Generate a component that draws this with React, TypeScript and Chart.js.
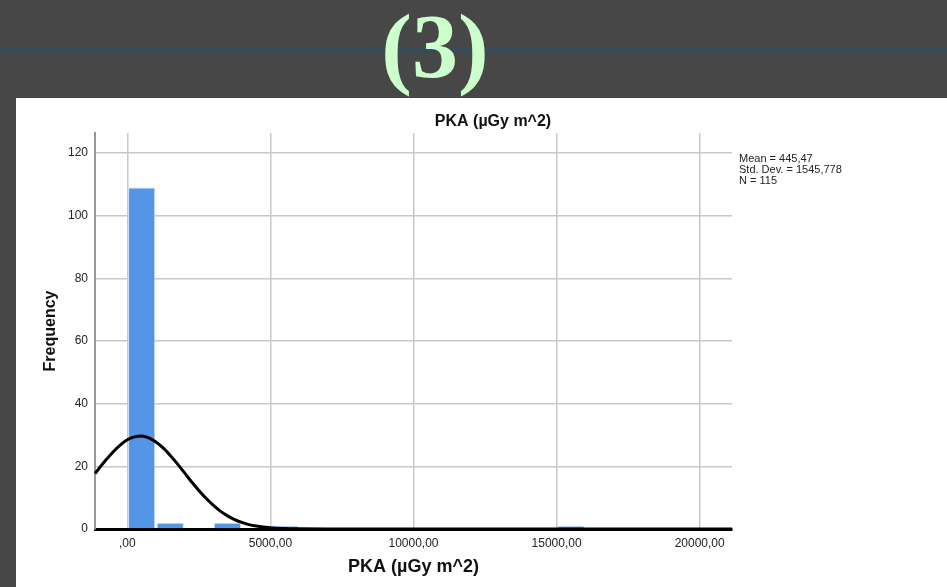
import React, { useEffect, useRef } from 'react';
import { Chart, registerables } from 'chart.js';

Chart.register(...registerables);

// Histogram bins (bin centres, width 1000) and frequencies
const binCenters = [500, 1500, 3500, 5500, 15500];
const binCounts = [109, 2, 2, 1, 1];

// Fitted normal curve
const curveX = [-1130, -1000, -750, -500, -250, 0, 250, 500, 750, 1000, 1250, 1500, 1750, 2000, 2250, 2500, 2750, 3000, 3250, 3500, 3750, 4000, 4250, 4500, 5000, 5500, 6000, 7000, 10000, 15000, 21130];
const curveY = [17.7, 19.2, 22.0, 24.6, 26.8, 28.5, 29.4, 29.7, 29.1, 27.8, 25.9, 23.5, 20.8, 17.9, 15.0, 12.3, 9.8, 7.6, 5.7, 4.2, 3.0, 2.1, 1.4, 0.95, 0.39, 0.14, 0.05, 0, 0, 0, 0];

const xTicks = [0, 5000, 10000, 15000, 20000];
const yTicks = [0, 20, 40, 60, 80, 100, 120];
const chartTitle = 'PKA (µGy m^2)';
const xTitle = 'PKA (µGy m^2)';
const yTitle = 'Frequency';
const statsLines = ['Mean = 445,47', 'Std. Dev. = 1545,778', 'N = 115'];
const heading = '(3)';

const FONT = 'Arial, "Liberation Sans", sans-serif';

const PANEL_LEFT = 16;
const PANEL_TOP = 98;

const formatTick = (v: number) => (v === 0 ? ',00' : `${v},00`);

const textPlugin = {
  id: 'spssText',
  afterDraw(chart: any) {
    const ctx = chart.ctx;
    ctx.save();
    ctx.fillStyle = '#111';
    ctx.font = `bold 16px ${FONT}`;
    ctx.textAlign = 'center';
    ctx.textBaseline = 'middle';
    ctx.fillText(chartTitle, 493 - PANEL_LEFT, 122 - PANEL_TOP);
    ctx.font = `11px ${FONT}`;
    ctx.textAlign = 'left';
    ctx.fillStyle = '#222';
    statsLines.forEach((l, i) => {
      ctx.fillText(l, 739 - PANEL_LEFT, 159 - PANEL_TOP + i * 11);
    });
    ctx.restore();
  },
};

export default function App() {
  const ref = useRef<HTMLCanvasElement>(null);

  useEffect(() => {
    if (!ref.current) return;
    const chart = new Chart(ref.current, {
      type: 'bar',
      data: {
        datasets: [
          {
            type: 'line',
            data: curveX.map((x, i) => ({ x, y: curveY[i] })),
            borderColor: '#000',
            borderWidth: 3,
            pointRadius: 0,
            cubicInterpolationMode: 'monotone',
            fill: false,
            order: 0,
            clip: false,
          } as any,
          {
            type: 'bar',
            data: binCenters.map((x, i) => ({ x, y: binCounts[i] })),
            backgroundColor: '#5595e5',
            borderColor: '#cde0f8',
            borderWidth: 1,
            barPercentage: 0.95,
            categoryPercentage: 1,
            order: 1,
          } as any,
        ],
      },
      options: {
        animation: false,
        responsive: false,
        maintainAspectRatio: false,
        layout: { padding: { top: 35, right: 215, left: 0, bottom: 0 } },
        plugins: {
          legend: { display: false },
          tooltip: { enabled: false },
          title: { display: false },
        },
        scales: {
          x: {
            type: 'linear',
            min: -1130,
            max: 21130,
            offset: false,
            afterBuildTicks: (s: any) => {
              s.ticks = xTicks.map((v) => ({ value: v }));
            },
            afterFit: (s: any) => {
              s.height = 58;
            },
            grid: { color: '#c8c8c8', lineWidth: 1.5, drawTicks: false, offset: false },
            border: { color: '#000', width: 3 },
            ticks: {
              callback: (v: any) => formatTick(Number(v)),
              font: { family: FONT, size: 12 },
              color: '#222',
              padding: 7,
              maxRotation: 0,
              autoSkip: false,
            },
            title: {
              display: true,
              text: xTitle,
              font: { family: FONT, size: 18, weight: 'bold' },
              color: '#111',
              padding: { top: 0, bottom: 9 },
            },
          },
          y: {
            type: 'linear',
            min: 0,
            max: 126.4,
            afterBuildTicks: (s: any) => {
              s.ticks = yTicks.map((v) => ({ value: v }));
            },
            afterFit: (s: any) => {
              s.width = 79;
            },
            grid: { color: '#c8c8c8', lineWidth: 1.5, drawTicks: false },
            border: { color: '#999', width: 2 },
            ticks: {
              font: { family: FONT, size: 12 },
              color: '#222',
              padding: 7,
            },
            title: {
              display: true,
              text: yTitle,
              font: { family: FONT, size: 16, weight: 'bold' },
              color: '#111',
              padding: { top: 25, bottom: 0 },
            },
          },
        },
      },
      plugins: [textPlugin],
    } as any);
    return () => chart.destroy();
  }, []);

  return (
    <div
      style={{
        position: 'fixed',
        left: 0,
        top: 0,
        width: 947,
        height: 587,
        overflow: 'hidden',
        background: '#474747',
      }}
    >
      <div
        style={{
          position: 'absolute',
          left: 0,
          top: 50,
          width: 947,
          height: 1,
          background: '#244d6b',
        }}
      />
      <div
        style={{
          position: 'absolute',
          left: 335,
          width: 200,
          top: -2,
          textAlign: 'center',
          fontFamily: '"Liberation Serif", "DejaVu Serif", serif',
          fontWeight: 'bold',
          fontSize: 92,
          lineHeight: '96px',
          color: '#ccffcc',
        }}
      >
        {heading}
      </div>
      <div
        style={{
          position: 'absolute',
          left: PANEL_LEFT,
          top: PANEL_TOP,
          width: 947 - PANEL_LEFT,
          height: 587 - PANEL_TOP,
          background: '#fff',
        }}
      >
        <canvas ref={ref} width={947 - PANEL_LEFT} height={587 - PANEL_TOP} />
      </div>
    </div>
  );
}
